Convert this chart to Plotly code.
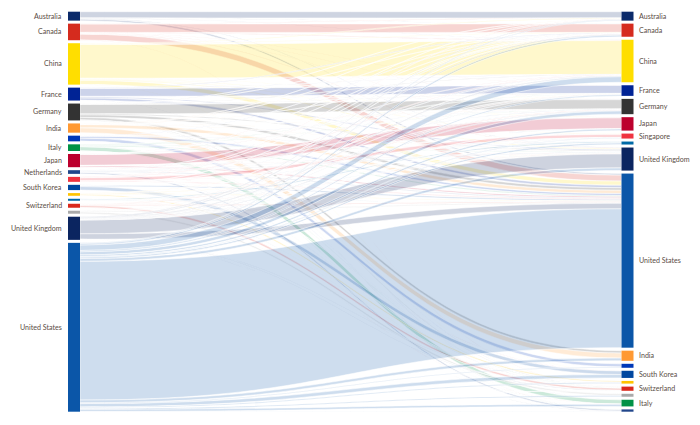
import plotly.graph_objects as go

# ── Countries (left column is alphabetical) ──────────────────────
codes = ["AU", "CA", "CN", "FR", "DE", "IN", "IL", "IT", "JP",
         "NL", "SG", "KR", "ES", "SE", "CH", "TW", "UK", "US"]
names = ["Australia", "Canada", "China", "France", "Germany", "India", "Israel", "Italy", "Japan",
         "Netherlands", "Singapore", "South Korea", "Spain", "Sweden", "Switzerland", "Taiwan",
         "United Kingdom", "United States"]
colors = ["#0B2A6A", "#D52B1E", "#FFDE00", "#002395", "#333333", "#FF9933", "#0038B8", "#009246", "#BC002D",
          "#21468B", "#EF3340", "#0047A0", "#FFC400", "#006AA7", "#DA291C", "#AAAAAA", "#0B2560", "#0B56A8"]

# order of the right column, top to bottom
right_order = ["AU", "CA", "CN", "FR", "DE", "JP", "SG", "SE", "UK",
               "US", "IN", "IL", "KR", "ES", "CH", "TW", "IT", "NL"]

# nodes that carry a visible label
left_labelled = ["AU", "CA", "CN", "FR", "DE", "IN", "IT", "JP", "NL", "KR", "CH", "UK", "US"]
right_labelled = ["AU", "CA", "CN", "FR", "DE", "JP", "SG", "UK", "US", "IN", "KR", "CH", "IT"]

# ── Flows (source -> target, share units) ────────────────────────
flow_src = (["AU"] * 5 + ["CA"] * 9 + ["CN"] * 10 + ["FR"] * 8 + ["DE"] * 10 + ["IN"] * 9
            + ["IL"] * 6 + ["IT"] * 7 + ["JP"] * 8 + ["NL"] * 8 + ["SG"] * 6 + ["KR"] * 6
            + ["ES"] * 6 + ["SE"] * 5 + ["CH"] * 7 + ["TW"] * 4 + ["UK"] * 14 + ["US"] * 18)
flow_tgt = [
    "AU", "US", "UK", "CN", "CA",
    "CA", "US", "CN", "UK", "AU", "FR", "DE", "JP", "CH",
    "CN", "US", "UK", "AU", "CA", "JP", "SG", "DE", "KR", "CH",
    "FR", "US", "UK", "CA", "DE", "CH", "CN", "IT",
    "DE", "IN", "US", "UK", "CH", "FR", "CN", "NL", "AU", "CA",
    "IN", "US", "UK", "CA", "SG", "DE", "AU", "CN", "JP",
    "IL", "US", "UK", "CA", "DE", "CH",
    "IT", "US", "UK", "CH", "DE", "FR", "NL",
    "JP", "US", "CN", "UK", "KR", "AU", "CA", "SG",
    "NL", "US", "UK", "DE", "CH", "CA", "FR", "SE",
    "SG", "US", "CN", "UK", "AU", "CA",
    "KR", "US", "CN", "JP", "CA", "SG",
    "ES", "US", "UK", "DE", "FR", "CH",
    "SE", "US", "UK", "DE", "CH",
    "CH", "US", "DE", "UK", "FR", "IT", "CA",
    "TW", "US", "CN", "SG",
    "UK", "US", "CA", "AU", "CN", "DE", "FR", "CH", "SG", "NL", "SE", "IT", "JP", "ES",
    "US", "CN", "KR", "DE", "IN", "UK", "IT", "JP", "CA", "SE", "FR", "TW", "ES", "IL", "AU", "SG", "NL", "CH",
]
flow_val = [
    6.3, 1.6, 0.5, 0.3, 0.3,
    8.5, 6.0, 0.6, 0.5, 0.3, 0.2, 0.2, 0.2, 0.2,
    34.0, 4.2, 0.9, 0.7, 0.6, 0.4, 0.5, 0.2, 0.1, 0.1,
    8.0, 2.4, 1.1, 0.6, 0.4, 0.2, 0.2, 0.1,
    9.5, 2.5, 2.7, 0.9, 0.4, 0.3, 0.3, 0.2, 0.1, 0.1,
    5.0, 3.2, 0.3, 0.2, 0.2, 0.1, 0.1, 0.1, 0.1,
    3.2, 2.0, 0.2, 0.1, 0.1, 0.1,
    4.3, 0.9, 0.5, 0.3, 0.3, 0.3, 0.1,
    11.0, 1.4, 0.3, 0.2, 0.1, 0.1, 0.1, 0.1,
    1.6, 0.8, 0.4, 0.3, 0.2, 0.1, 0.1, 0.2,
    3.2, 0.8, 0.5, 0.2, 0.2, 0.1,
    3.6, 1.3, 0.1, 0.1, 0.1, 0.1,
    1.5, 0.6, 0.3, 0.1, 0.1, 0.1,
    1.2, 0.4, 0.2, 0.1, 0.1,
    2.1, 0.8, 0.4, 0.3, 0.2, 0.1, 0.1,
    1.8, 0.9, 0.2, 0.1,
    14.0, 5.5, 0.8, 0.6, 0.6, 0.5, 0.3, 0.3, 0.2, 0.1, 0.1, 0.1, 0.1, 0.1,
    139.8, 5.6, 3.4, 3.2, 2.7, 2.7, 2.1, 1.6, 1.5, 1.5, 1.2, 1.2, 1.1, 0.8, 0.6, 0.6, 0.3, 0.1,
]

# ── Layout constants (page pixels; the page body adds an 8px offset) ──
OFF = 8
W, H = 700 - OFF, 425 - OFF
TOP_PX, BOT_PX = 11.7 - OFF, 411.7 - OFF      # vertical extent of the node columns
LEFT_CX, RIGHT_CX = 74.0 - OFF, 627.5 - OFF   # node column centres
PAD = 3.0
THICK = 12
LABEL_COLOR = "#5a4d45"


def rgba(hex_color, a):
    h = hex_color.lstrip("#")
    return f"rgba({int(h[0:2], 16)},{int(h[2:4], 16)},{int(h[4:6], 16)},{a})"


idx = {c: i for i, c in enumerate(codes)}
n = len(codes)
left_tot = {c: 0.0 for c in codes}
right_tot = {c: 0.0 for c in codes}
for s, t, v in zip(flow_src, flow_tgt, flow_val):
    left_tot[s] += v
    right_tot[t] += v
total = sum(flow_val)

dom_h = BOT_PX - TOP_PX
ky = (dom_h - (n - 1) * PAD) / total


def centres(order, totals):
    out, y = {}, 0.0
    for c in order:
        h = totals[c] * ky
        out[c] = (y + h / 2) / dom_h
        y += h + PAD
    return out


left_y = centres(codes, left_tot)
right_y = centres(right_order, right_tot)

# sankey domain so that node x = 0.001 / 0.999 land on the column centres
dom_w = (RIGHT_CX - LEFT_CX) / 0.998
dom_x0 = LEFT_CX - 0.001 * dom_w

node_x = [0.001] * n + [0.999] * n
node_y = [left_y[c] for c in codes] + [right_y[c] for c in codes]
node_color = colors + colors
node_names = names + names

fig = go.Figure(go.Sankey(
    arrangement="fixed",
    domain=dict(x=[dom_x0 / W, (dom_x0 + dom_w) / W], y=[1 - BOT_PX / H, 1 - TOP_PX / H]),
    node=dict(
        pad=PAD, thickness=THICK,
        label=[""] * (2 * n),
        customdata=node_names,
        hovertemplate="%{customdata}: %{value:.1f}<extra></extra>",
        color=node_color,
        line=dict(width=0),
        x=node_x, y=node_y,
    ),
    link=dict(
        source=[idx[s] for s in flow_src],
        target=[n + idx[t] for t in flow_tgt],
        value=flow_val,
        color=[rgba(colors[idx[s]], 0.2) for s in flow_src],
        line=dict(color="rgba(255,255,255,0.9)", width=0.6),
    ),
))

# labels: outside of both columns
annotations = []
for c in left_labelled:
    annotations.append(dict(
        x=(LEFT_CX - THICK / 2 - 4) / W, y=1 - (TOP_PX + left_y[c] * dom_h) / H,
        xref="paper", yref="paper", xanchor="right", yanchor="middle",
        text=names[idx[c]], showarrow=False,
    ))
for c in right_labelled:
    annotations.append(dict(
        x=(RIGHT_CX + THICK / 2 + 3) / W, y=1 - (TOP_PX + right_y[c] * dom_h) / H,
        xref="paper", yref="paper", xanchor="left", yanchor="middle",
        text=names[idx[c]], showarrow=False,
    ))

fig.update_layout(
    width=W, height=H,
    margin=dict(l=0, r=0, t=0, b=0),
    paper_bgcolor="white",
    plot_bgcolor="white",
    font=dict(family="Lato, sans-serif", size=7.1, color=LABEL_COLOR),
    annotations=annotations,
)

fig.write_html("out.html")
